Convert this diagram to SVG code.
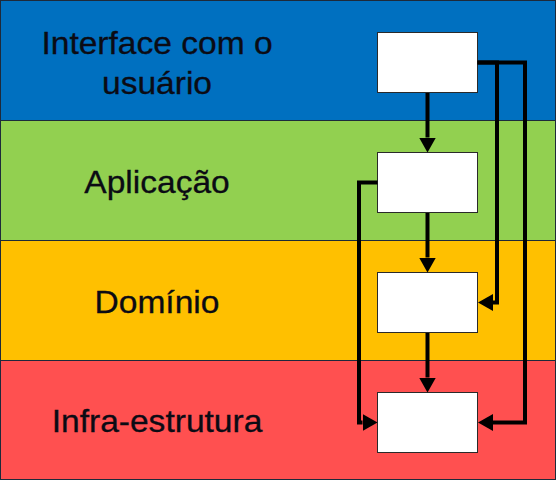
<svg xmlns="http://www.w3.org/2000/svg" width="556" height="480" viewBox="0 0 556 480">
<style>
.band{stroke:#1e2a3a;stroke-width:1}
.lbl{font-family:"Liberation Sans",Arial,sans-serif;font-size:30.5px;fill:#0b0b14;text-anchor:middle;stroke:#0b0b14;stroke-width:0.3}
.box{fill:#ffffff;stroke:#2a2a2a;stroke-width:1}
.conn{fill:none;stroke:#000;stroke-width:4;stroke-linejoin:miter}
</style>
<defs>
<marker id="ah" markerUnits="userSpaceOnUse" markerWidth="15" markerHeight="17" refX="0" refY="8.5" orient="auto" viewBox="0 0 15 17">
<path d="M0,0 L15,8.5 L0,17 z" fill="#000"/>
</marker>
</defs>
<g id="layers">
<rect class="band" x="0.5" y="0.5" width="555" height="120" fill="#0070C0"/>
<rect class="band" x="0.5" y="120.5" width="555" height="120" fill="#92D050"/>
<rect class="band" x="0.5" y="240.5" width="555" height="120" fill="#FFC000"/>
<rect class="band" x="0.5" y="360.5" width="555" height="119" fill="#FF5050"/>
</g>
<g id="labels" transform="translate(157,0) scale(1.1,1)">
<text class="lbl" x="0" y="54">Interface com o</text>
<text class="lbl" x="0" y="94">usuário</text>
<text class="lbl" x="0" y="193">Aplicação</text>
<text class="lbl" x="0" y="313">Domínio</text>
<text class="lbl" x="0" y="432">Infra-estrutura</text>
</g>
<g id="node-ui"><rect class="box" x="377.5" y="32.5" width="100" height="60"/></g>
<g id="node-app"><rect class="box" x="377.5" y="152.5" width="100" height="60"/></g>
<g id="node-dom"><rect class="box" x="377.5" y="272.5" width="100" height="60"/></g>
<g id="node-infra"><rect class="box" x="377.5" y="392.5" width="100" height="60"/></g>
<g id="connectors">
<path class="conn" d="M427.5,93 V137.5" marker-end="url(#ah)"/>
<path class="conn" d="M427.5,213 V257.5" marker-end="url(#ah)"/>
<path class="conn" d="M427.5,333 V377.5" marker-end="url(#ah)"/>
<path class="conn" d="M477.5,62.5 H497 V302.5 H493" marker-end="url(#ah)"/>
<path class="conn" d="M477.5,62.5 H525 V422.5 H493" marker-end="url(#ah)"/>
<path class="conn" d="M377.5,182.5 H359 V422.5 H362.5" marker-end="url(#ah)"/>
</g>
</svg>
